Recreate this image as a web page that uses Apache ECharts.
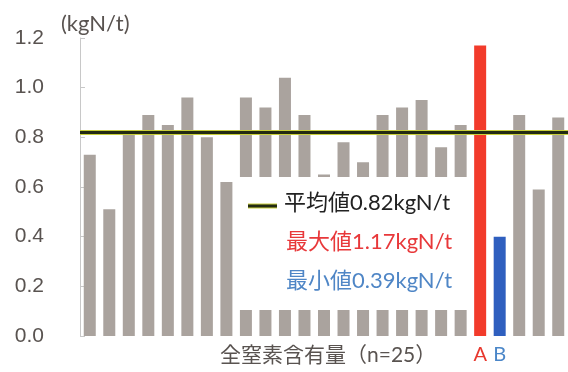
<!DOCTYPE html>
<html><head><meta charset="utf-8">
<script src="https://cdn.jsdelivr.net/npm/echarts@6/dist/echarts.min.js"></script>
<style>html,body{margin:0;padding:0;background:#fff}#c{width:568px;height:372px}</style>
</head><body><div id="c"></div>
<script>
const categories = ['1','2','3','4','5','6','7','8','9','10','11','12','13','14','15','16','17','18','19','20','A','B','23','24','25'];
const values = [0.73,0.51,0.81,0.89,0.85,0.96,0.80,0.62,0.96,0.92,1.04,0.89,0.65,0.78,0.70,0.89,0.92,0.95,0.76,0.85,1.17,0.40,0.89,0.59,0.88];
const meanValue = 0.82;
const yTicks = [0,0.2,0.4,0.6,0.8,1.0,1.2];
const legendLines = ['平均値0.82kgN/t','最大値1.17kgN/t','最小値0.39kgN/t'];
const unitLabel = '(kgN/t)';
const xTitle = '全窒素含有量（n=25）';

const GRAY='#aaa39e', RED='#f23b2b', BLUE='#2f5fbf';
const font = "Lato, 'Noto Sans CJK JP', sans-serif";
const chart = echarts.init(document.getElementById('c'));
const data = values.map((v,i)=>{
  const c = categories[i];
  return {value:v, itemStyle:{color: c==='A'?RED:(c==='B'?BLUE:GRAY)}};
});
chart.setOption({
  animation:false,
  backgroundColor:'#fff',
  grid:{left:80,right:-7,top:38,bottom:36,containLabel:false},
  xAxis:{type:'category',data:categories,
    axisLine:{show:false},axisTick:{show:false},
    axisLabel:{interval:0,margin:9,fontFamily:font,fontSize:20,
      formatter:(v)=> v==='A'?'{a|A}':(v==='B'?'{b|B}':''),
      rich:{a:{color:'#e8382e',fontSize:20,fontFamily:font},b:{color:'#4a86c8',fontSize:20,fontFamily:font}}}},
  yAxis:{type:'value',min:yTicks[0],max:yTicks[yTicks.length-1],interval:0.2,
    splitLine:{show:false},
    axisLine:{show:true,lineStyle:{color:'#c8c8c8',width:1}},
    axisTick:{show:true,inside:true,length:5,lineStyle:{color:'#c8c8c8'}},
    axisLabel:{margin:36,fontSize:21,color:'#595350',fontFamily:"'Liberation Sans', sans-serif",formatter:(v)=>v.toFixed(1)}},
  series:[{type:'bar',data:data,barWidth:12,
    markLine:{silent:true,symbol:'none',label:{show:false},
      data:[{yAxis:meanValue,lineStyle:{color:'#c9cf3c',width:5,type:'solid'}},
            {yAxis:meanValue,lineStyle:{color:'#232b12',width:3,type:'solid'}}]}}],
  graphic:[
    {type:'rect',left:237,top:177,shape:{width:233,height:133},style:{fill:'#fff'},z:100},
    {type:'line',shape:{x1:248,y1:206,x2:277,y2:206},style:{stroke:'#c9cf3c',lineWidth:5},z:101},
    {type:'line',shape:{x1:248,y1:206,x2:277,y2:206},style:{stroke:'#232b12',lineWidth:3},z:102},
    {type:'text',left:284,top:192,style:{text:legendLines[0],fill:'#222',font:'22px '+font},z:102},
    {type:'text',left:286,top:231,style:{text:legendLines[1],fill:'#e8383a',font:'22px '+font},z:102},
    {type:'text',left:286,top:270,style:{text:legendLines[2],fill:'#4f86c6',font:'22px '+font},z:102},
    {type:'text',left:61,top:13,style:{text:unitLabel,fill:'#595350',font:'22px '+font},z:102},
    {type:'text',left:220,top:345,style:{text:xTitle,fill:'#595350',font:'21px '+font},z:102}
  ]
});
</script></body></html>
